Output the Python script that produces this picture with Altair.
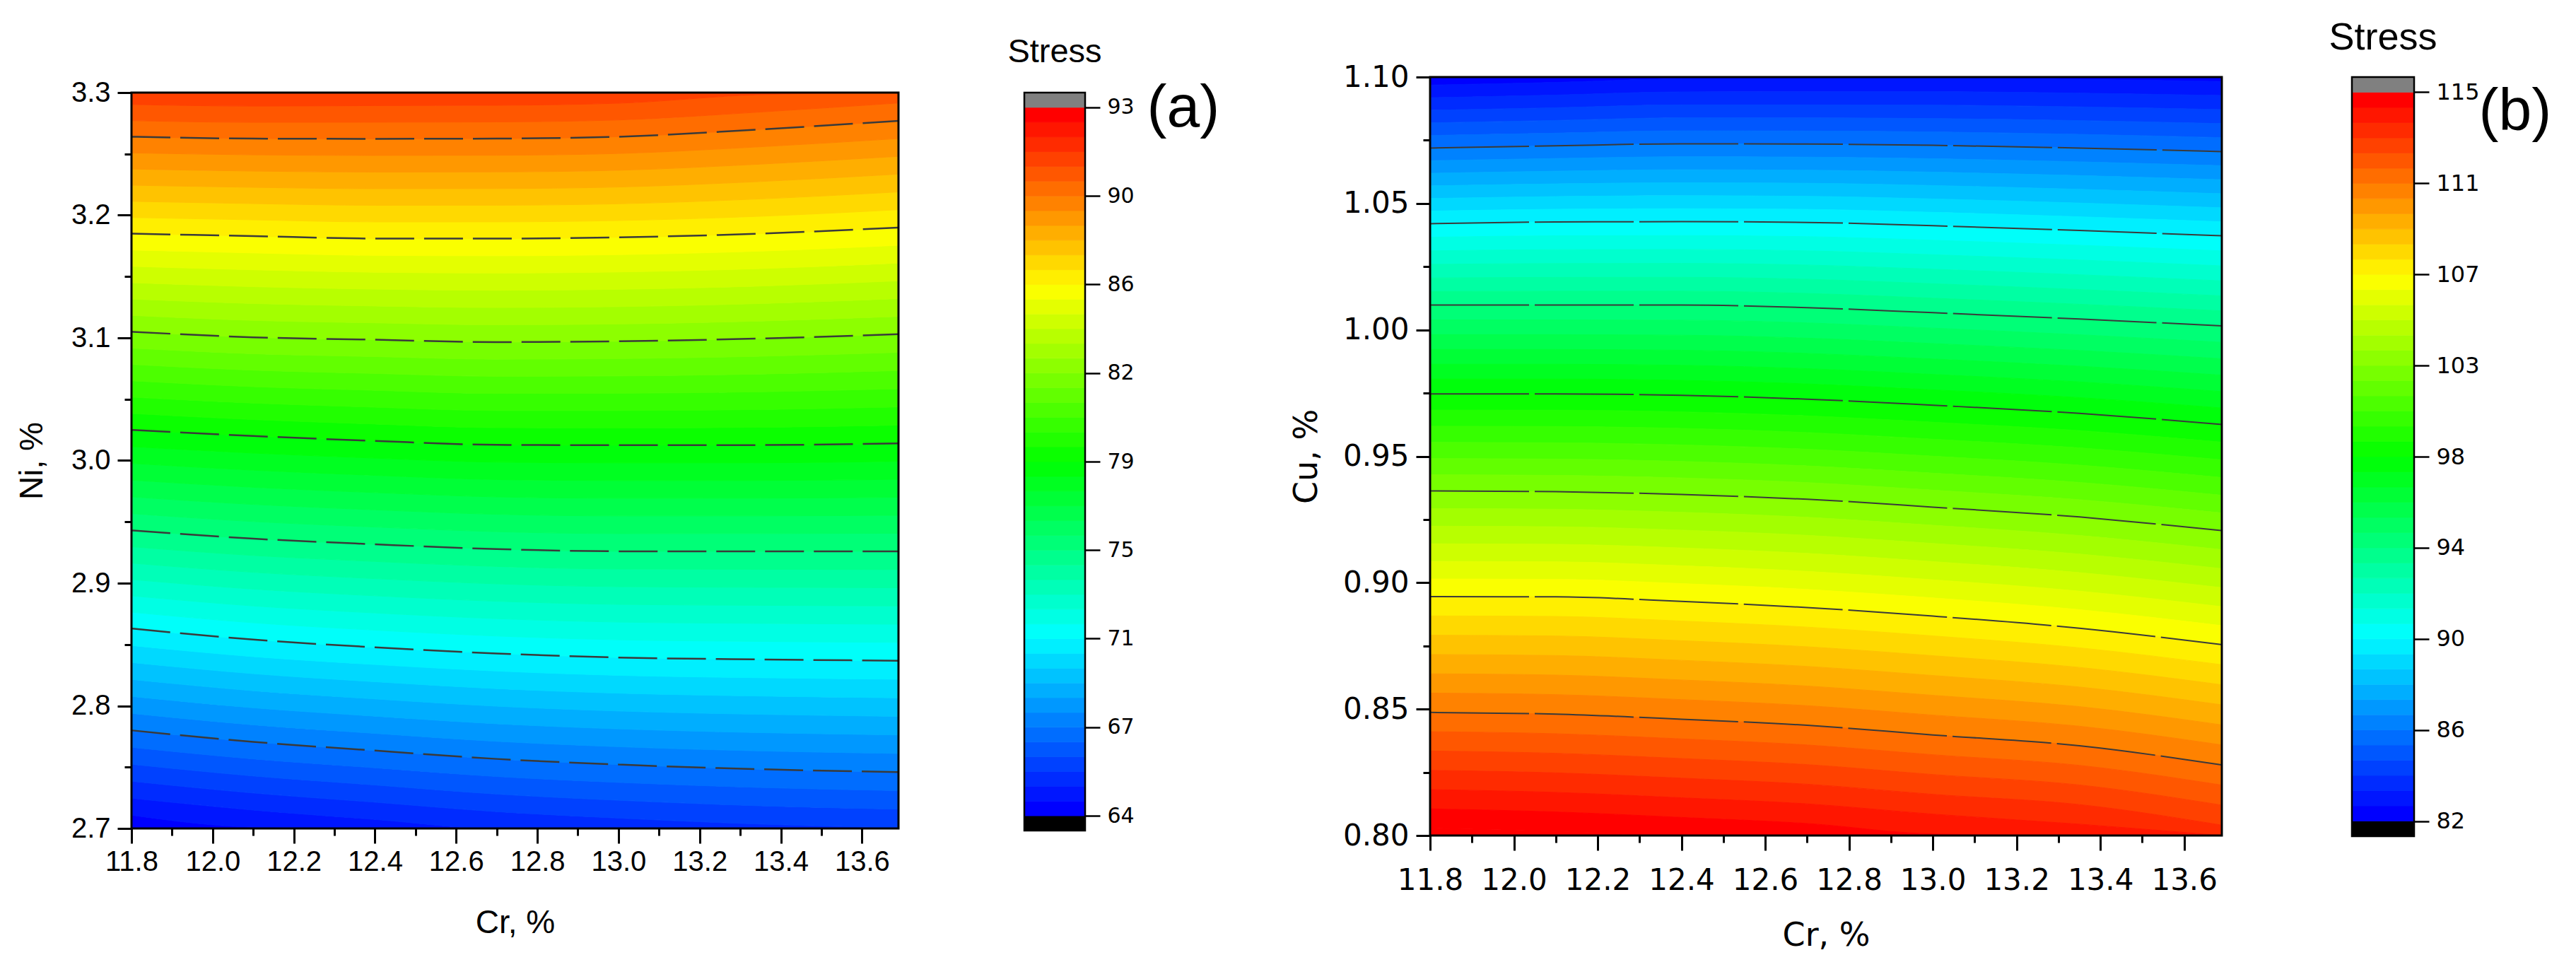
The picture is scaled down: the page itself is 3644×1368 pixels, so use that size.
import altair as alt
import numpy as np
import pandas as pd

# ---------------- data ----------------
# panel (a): Cr (x) vs Ni (y), black contour lines at colour-bar band edges 6,12,...,42
A_CR = [11.8, 12.1, 12.4, 12.7, 13.0, 13.35, 13.69]
A_LINE_IDX = [6, 12, 18, 24, 30, 36, 42]
A_L6 = [2.780, 2.7706, 2.7635, 2.7567, 2.7521, 2.7483, 2.746]
A_L12 = [2.863, 2.854, 2.8477, 2.8427, 2.8394, 2.8378, 2.8368]
A_L18 = [2.943, 2.9363, 2.9317, 2.9278, 2.926, 2.926, 2.926]
A_L24 = [3.025, 3.020, 3.016, 3.0128, 3.0125, 3.0126, 3.014]
A_L30 = [3.105, 3.1005, 3.0985, 3.0966, 3.0972, 3.0995, 3.103]
A_L36 = [3.185, 3.183, 3.181, 3.181, 3.182, 3.185, 3.190]
A_L42 = [3.264, 3.2625, 3.2623, 3.2625, 3.264, 3.270, 3.277]

# panel (b): Cr (x) vs Cu (y); stress grows downward
B_CR = [11.8, 12.1, 12.4, 12.7, 13.0, 13.35, 13.69]
B_LINE_IDX = [6, 12, 18, 24, 30, 36, 42]
B_L6 = [1.0719, 1.0728, 1.0736, 1.0735, 1.0730, 1.0719, 1.0705]
B_L12 = [1.0420, 1.0427, 1.0428, 1.0425, 1.0412, 1.0393, 1.0372]
B_L18 = [1.0098, 1.0098, 1.0098, 1.0088, 1.0068, 1.0043, 1.0016]
B_L24 = [0.9747, 0.9747, 0.9741, 0.9726, 0.9702, 0.9670, 0.9626]
B_L30 = [0.9363, 0.9360, 0.9349, 0.9330, 0.9299, 0.9260, 0.9206]
B_L36 = [0.8945, 0.8944, 0.8926, 0.8902, 0.8868, 0.8820, 0.8755]
B_L42 = [0.8487, 0.8480, 0.8460, 0.8436, 0.8398, 0.8355, 0.8279]

# colour bars
N_BANDS = 48
A_MIN, A_MAX = 63.8, 93.3
A_TICKS = [63.8, 67.49, 71.18, 74.86, 78.55, 82.24, 85.93, 89.61, 93.3]
B_MIN, B_MAX = 81.6, 115.2
B_TICKS = [81.6, 85.8, 90.0, 94.2, 98.4, 102.6, 106.8, 111.0, 115.2]

# axes
A_X_MAJOR = [11.8, 12.0, 12.2, 12.4, 12.6, 12.8, 13.0, 13.2, 13.4, 13.6]
A_X_MINOR = [11.9, 12.1, 12.3, 12.5, 12.7, 12.9, 13.1, 13.3, 13.5]
A_Y_MAJOR = [2.7, 2.8, 2.9, 3.0, 3.1, 3.2, 3.3]
A_Y_MINOR = [2.75, 2.85, 2.95, 3.05, 3.15, 3.25]
B_Y_MAJOR = [0.80, 0.85, 0.90, 0.95, 1.00, 1.05, 1.10]
B_Y_MINOR = [0.825, 0.875, 0.925, 0.975, 1.025, 1.075]
X_DOMAIN = [11.8, 13.69]
A_Y_DOMAIN = [2.7, 3.3]
B_Y_DOMAIN = [0.8, 1.1]

# rainbow palette stops (Origin "Rainbow")
STOPS = [(0, 0, 255), (0, 255, 255), (0, 255, 0), (255, 255, 0), (255, 0, 0)]

# layout (pixels)
A_W, A_H, A_DROP = 1085, 1041, 22      # panel (a) sits 22 px lower than panel (b)
B_W, B_H = 1120, 1073
CB_A_W, CB_A_H = 86, 1044
CB_B_W, CB_B_H = 88, 1074


def band_color(j):
    j = min(max(j, 0), N_BANDS - 1)
    t = j / (N_BANDS - 1) * (len(STOPS) - 1)
    k = min(int(t), len(STOPS) - 2)
    f = t - k
    c = [round(STOPS[k][i] + f * (STOPS[k + 1][i] - STOPS[k][i])) for i in range(3)]
    return "#%02x%02x%02x" % tuple(c)


def band_edges(lines, idx, j):
    lines = np.array(lines, dtype=float)
    if j <= idx[0]:
        k = 0
    elif j >= idx[-1]:
        k = len(idx) - 2
    else:
        k = max(i for i in range(len(idx) - 1) if idx[i] <= j)
    t = (j - idx[k]) / (idx[k + 1] - idx[k])
    return lines[k] + t * (lines[k + 1] - lines[k])


def band_frame(cr, lines, idx, ydom):
    rows = []
    for j in range(-8, N_BANDS + 8):
        lo = np.clip(band_edges(lines, idx, j), ydom[0], ydom[1])
        hi = np.clip(band_edges(lines, idx, j + 1), ydom[0], ydom[1])
        for c, a, b in zip(cr, lo, hi):
            rows.append({"cr": c, "lo": a, "hi": b, "band": j, "col": band_color(j)})
    return pd.DataFrame(rows)


def line_frame(cr, lines, idx):
    rows = []
    for lv, ys in zip(idx, lines):
        for c, v in zip(cr, ys):
            rows.append({"cr": c, "v": v, "level": lv})
    return pd.DataFrame(rows)


def cbar_frame(vmin, vmax):
    step = (vmax - vmin) / N_BANDS
    rows = [{"lo": vmin - step, "hi": vmin, "col": "#000000", "x0": 0, "x1": 1}]
    for j in range(N_BANDS):
        rows.append({"lo": vmin + j * step, "hi": vmin + (j + 1) * step,
                     "col": band_color(j), "x0": 0, "x1": 1})
    rows.append({"lo": vmax, "hi": vmax + step, "col": "#808080", "x0": 0, "x1": 1})
    return pd.DataFrame(rows), step


def contour_panel(cr, lines, idx, ydom, ymaj, ymin, yfmt, ytitle, w, h, drop,
                  lfont, lsize, dash, lw, xlabpad, ylabpad, xtitlepad, ytitlepad):
    top = ydom[1] + drop * (ydom[1] - ydom[0]) / h
    xs = alt.Scale(domain=X_DOMAIN, nice=False, zero=False)
    ys = alt.Scale(domain=[ydom[0], top], nice=False, zero=False)
    bands = alt.Chart(band_frame(cr, lines, idx, ydom)).mark_area(
        clip=True, interpolate="monotone", strokeWidth=1
    ).encode(
        x=alt.X("cr:Q", scale=xs, axis=alt.Axis(
            values=A_X_MAJOR, format=".1f", tickSize=21, tickWidth=3,
            labelFont=lfont, labelFontSize=lsize, labelPadding=xlabpad,
            title="Cr, %", titleFont=lfont, titleFontSize=46, titleFontWeight="normal",
            titlePadding=xtitlepad, orient="bottom")),
        y=alt.Y("lo:Q", scale=ys, axis=alt.Axis(
            values=ymaj, format=yfmt, tickSize=20, tickWidth=3,
            labelFont=lfont, labelFontSize=lsize, labelPadding=ylabpad,
            title=ytitle, titleFont=lfont, titleFontSize=46, titleFontWeight="normal",
            titlePadding=ytitlepad, orient="left", titleY=(h + drop) / 2 + drop / 2)),
        y2="hi:Q",
        detail="band:N",
        fill=alt.Fill("col:N", scale=None),
        stroke=alt.Stroke("col:N", scale=None),
    )
    cl = alt.Chart(line_frame(cr, lines, idx)).mark_line(
        clip=True, interpolate="monotone", color="#3a3a3a", strokeWidth=lw, strokeDash=dash
    ).encode(
        x=alt.X("cr:Q", scale=xs, axis=alt.Axis(
            values=A_X_MINOR, labels=False, tickSize=10, tickWidth=3, title=None,
            orient="bottom")),
        y=alt.Y("v:Q", scale=ys, axis=alt.Axis(
            values=ymin, labels=False, tickSize=10, tickWidth=3, title=None,
            orient="left")),
        detail="level:N",
    )
    frame = alt.Chart(pd.DataFrame({"x0": [X_DOMAIN[0]], "x1": [X_DOMAIN[1]],
                                    "y0": [ydom[0]], "y1": [ydom[1]]})).mark_rect(
        fillOpacity=0, stroke="black", strokeWidth=3
    ).encode(
        x=alt.X("x0:Q", scale=xs, axis=None), x2="x1:Q",
        y=alt.Y("y0:Q", scale=ys, axis=None), y2="y1:Q",
    )
    return alt.layer(bands, cl, frame).resolve_axis(x="independent", y="independent").properties(
        width=w, height=h + drop, view=alt.ViewBackground(stroke="transparent"))


def colorbar(vmin, vmax, ticks, h, w, drop, lsize, letter, lx, ly, stress_size, stress_dy):
    df, step = cbar_frame(vmin, vmax)
    lo_d = vmin - step
    hi_d = vmax + step
    top = hi_d + drop * (hi_d - lo_d) / h
    ys = alt.Scale(domain=[lo_d, top], nice=False, zero=False)
    xs = alt.Scale(domain=[0, 1], nice=False)
    bar = alt.Chart(df).mark_rect(strokeWidth=0.8).encode(
        x=alt.X("x0:Q", scale=xs, axis=None),
        x2="x1:Q",
        y=alt.Y("lo:Q", scale=ys,
                axis=alt.Axis(orient="right", values=ticks, format=".0f", tickSize=21, tickWidth=2.5,
                              labelFont="DejaVu Sans", labelFontSize=lsize, labelPadding=10,
                              title=letter, titleAngle=0, titleX=lx, titleY=ly, titleAlign="left",
                              titleBaseline="middle", titleFontSize=84, titleFontWeight="normal",
                              titleFont="Liberation Sans")),
        y2="hi:Q",
        fill=alt.Fill("col:N", scale=None),
        stroke=alt.Stroke("col:N", scale=None),
    )
    outline = alt.Chart(pd.DataFrame({"x0": [0], "x1": [1], "lo": [lo_d], "hi": [hi_d]})).mark_rect(
        fillOpacity=0, stroke="black", strokeWidth=2.5
    ).encode(
        x=alt.X("x0:Q", scale=xs, axis=None), x2="x1:Q",
        y=alt.Y("lo:Q", scale=ys, axis=None), y2="hi:Q",
    )
    return alt.layer(bar, outline).resolve_axis(x="independent", y="independent").properties(
        width=w, height=h + drop,
        title=alt.TitleParams("Stress", fontSize=stress_size, fontWeight="normal", anchor="middle",
                              frame="group", baseline="alphabetic", offset=0, dy=stress_dy,
                              font="Liberation Sans"),
        view=alt.ViewBackground(stroke="transparent"),
    )


def spacer(w):
    return alt.Chart(pd.DataFrame({"v": [0]})).mark_point(opacity=0).encode(
        x=alt.value(0), y=alt.value(0)
    ).properties(width=w, height=10, view=alt.ViewBackground(stroke="transparent"))


A_LINES = [A_L6, A_L12, A_L18, A_L24, A_L30, A_L36, A_L42]
B_LINES = [B_L6, B_L12, B_L18, B_L24, B_L30, B_L36, B_L42]

panel_a = contour_panel(A_CR, A_LINES, A_LINE_IDX, A_Y_DOMAIN, A_Y_MAJOR, A_Y_MINOR, ".1f", "Ni, %",
                        A_W, A_H, A_DROP, "Liberation Sans", 40, [55, 14], 2.5, 6, 10, 44, 31)
panel_b = contour_panel(B_CR, B_LINES, B_LINE_IDX, B_Y_DOMAIN, B_Y_MAJOR, B_Y_MINOR, ".2f", "Cu, %",
                        B_W, B_H, 0, "DejaVu Sans", 42, [140, 8], 2.0, 22, 10, 35, 27)

cbar_a = colorbar(A_MIN, A_MAX, A_TICKS, CB_A_H, CB_A_W, A_DROP, 30, "(a)", 87, 44, 47, 26)
cbar_b = colorbar(B_MIN, B_MAX, B_TICKS, CB_B_H, CB_B_W, 0, 32, "(b)", 91, 49, 54, 16)

chart = alt.hconcat(
    panel_a, spacer(178), cbar_a, spacer(488), panel_b, spacer(184), cbar_b,
    spacing=0, bounds="flush"
).properties(
    padding={"left": 12, "top": 17, "right": 5, "bottom": 5},
    background="white",
).configure(font="Liberation Sans").configure_view(
    stroke="black", strokeWidth=3
).configure_axis(
    grid=False, domain=False, labelFlush=False, labelOverlap=False,
    tickColor="black", labelColor="black", titleColor="black"
)

chart.save("out.html", embed_options={"renderer": "svg", "actions": False})
